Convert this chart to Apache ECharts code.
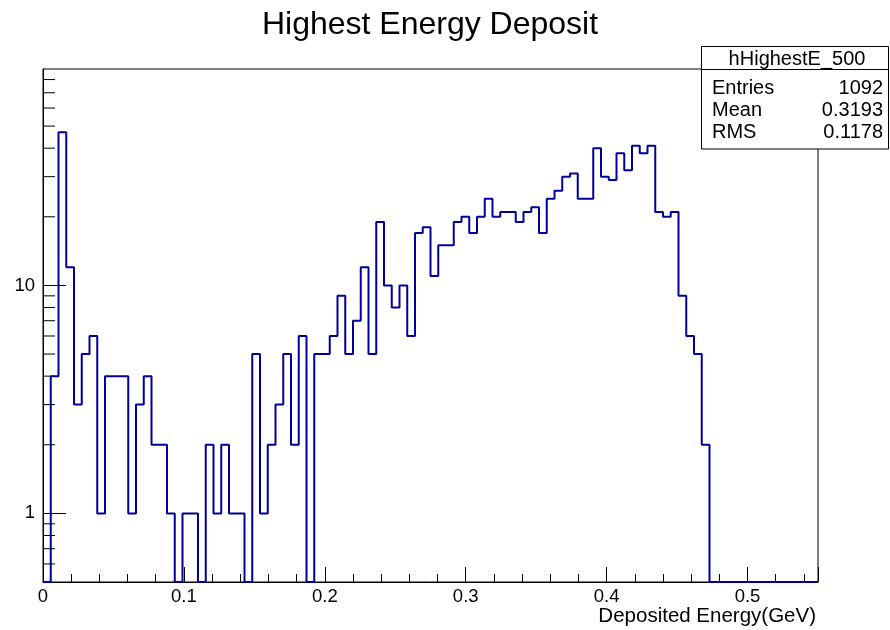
<!DOCTYPE html>
<html><head><meta charset="utf-8">
<script src="https://cdn.jsdelivr.net/npm/echarts@6/dist/echarts.min.js"></script>
<style>html,body{margin:0;padding:0;background:#fff}#c{width:890px;height:630px}</style>
</head><body><div id="c"></div>
<script>
// ---- data ----
const chartTitle = 'Highest Energy Deposit';
const xAxisTitle = 'Deposited Energy(GeV)';
const histName = 'hHighestE_500';
const statLabels = ['Entries', 'Mean', 'RMS'];
const statValues = ['1092', '0.3193', '0.1178'];
const xMin = 0, xMax = 0.55, binWidth = 0.0055;
const yMin = 0.5, yMax = 89;
const counts = [
  0, 4, 47, 12, 3, 5, 6, 1, 4, 4,
  4, 1, 3, 4, 2, 2, 1, 0, 1, 1,
  0, 2, 1, 2, 1, 1, 0, 5, 1, 2,
  3, 5, 2, 6, 0, 5, 5, 6, 9, 5,
  7, 12, 5, 19, 10, 8, 10, 6, 17, 18,
  11, 15, 15, 19, 20, 17, 20, 24, 20, 21,
  21, 19, 21, 22, 17, 24, 26, 30, 31, 24,
  24, 40, 30, 29, 38, 32, 41, 38, 41, 21,
  20, 21, 9, 6, 5, 2, 0, 0, 0, 0,
  0, 0, 0, 0, 0, 0, 0, 0, 0, 0
];
const xTickInterval = 0.1;
const yLabelValues = [1, 10];
const yMinorTicks = [0.6, 0.7, 0.8, 0.9, 2, 3, 4, 5, 6, 7, 8, 9, 20, 30, 40, 50, 60, 70, 80];

// ---- build ----
const FONT = 'Liberation Sans';
const histData = counts.map((c, i) => [xMin + i * binWidth, Math.max(c, yMin)]);
histData.push([xMin + counts.length * binWidth, Math.max(counts[counts.length - 1], yMin)]);

const chart = echarts.init(document.getElementById('c'), null, {renderer: 'canvas'});

const statTexts = [];
const rowY = [88, 110, 132];
statLabels.forEach((lab, i) => {
  statTexts.push({type: 'text', z: 101, x: 712, y: rowY[i],
    style: {text: lab, font: '20px ' + FONT, fill: '#000', textAlign: 'left', textVerticalAlign: 'middle'}});
  statTexts.push({type: 'text', z: 101, x: 883, y: rowY[i],
    style: {text: statValues[i], font: '20px ' + FONT, fill: '#000', textAlign: 'right', textVerticalAlign: 'middle'}});
});

const option = {
  animation: false,
  backgroundColor: '#fff',
  textStyle: {fontFamily: FONT},
  grid: {left: 43, right: 72, top: 69, bottom: 48, show: true, borderColor: '#000', borderWidth: 1, backgroundColor: 'transparent'},
  xAxis: {
    type: 'value', min: xMin, max: xMax, interval: xTickInterval,
    axisLine: {show: true, lineStyle: {color: '#000', width: 1}},
    axisTick: {show: true, inside: true, length: 15, lineStyle: {color: '#000'}},
    minorTick: {show: true, splitNumber: 5, length: 8, lineStyle: {color: '#000'}},
    splitLine: {show: false}, minorSplitLine: {show: false},
    axisLabel: {fontSize: 18.5, color: '#000', margin: 5, showMaxLabel: false,
      formatter: v => (Math.abs(v / xTickInterval - Math.round(v / xTickInterval)) < 1e-6) ? String(+v.toFixed(2)) : ''}
  },
  yAxis: {
    type: 'log', logBase: 10, min: yMin, max: yMax,
    axisLine: {show: true, lineStyle: {color: '#000', width: 1}},
    axisTick: {show: true, inside: true, length: 23, lineStyle: {color: '#000'}},
    splitLine: {show: false},
    axisLabel: {fontSize: 18.5, color: '#000', margin: 8, padding: [3, 0, 0, 0], showMinLabel: false, showMaxLabel: false,
      formatter: v => yLabelValues.some(t => Math.abs(t - v) < 1e-9 * t) ? String(Math.round(v)) : ''}
  },
  series: [
    {
      type: 'custom', coordinateSystem: 'cartesian2d', silent: true, z: 1,
      encode: {x: 0, y: 1},
      data: yMinorTicks.map(v => [xMin, v]),
      renderItem: (params, api) => {
        const p = api.coord([api.value(0), api.value(1)]);
        return {type: 'line', shape: {x1: p[0], y1: p[1], x2: p[0] + 12, y2: p[1]},
          style: {stroke: '#000', lineWidth: 1}};
      }
    },
    {
      type: 'line', data: histData, step: 'end', showSymbol: false, symbol: 'none',
      lineStyle: {color: '#000099', width: 2}, clip: true, z: 3, silent: true
    }
  ],
  graphic: [
    {type: 'text', z: 100, x: 430, y: 25,
      style: {text: chartTitle, font: '32px ' + FONT, fill: '#000', textAlign: 'center', textVerticalAlign: 'middle'}},
    {type: 'text', z: 100, x: 816, y: 616,
      style: {text: xAxisTitle, font: '20.5px ' + FONT, fill: '#000', textAlign: 'right', textVerticalAlign: 'middle'}},
    {type: 'rect', z: 100, shape: {x: 701.5, y: 46.5, width: 187, height: 102.5},
      style: {fill: '#fff', stroke: '#000', lineWidth: 1}},
    {type: 'line', z: 101, shape: {x1: 701.5, y1: 69.5, x2: 888.5, y2: 69.5},
      style: {stroke: '#000', lineWidth: 1}},
    {type: 'text', z: 101, x: 797, y: 59,
      style: {text: histName, font: '20px ' + FONT, fill: '#000', textAlign: 'center', textVerticalAlign: 'middle'}},
    ...statTexts
  ]
};
chart.setOption(option);
</script>
</body></html>
